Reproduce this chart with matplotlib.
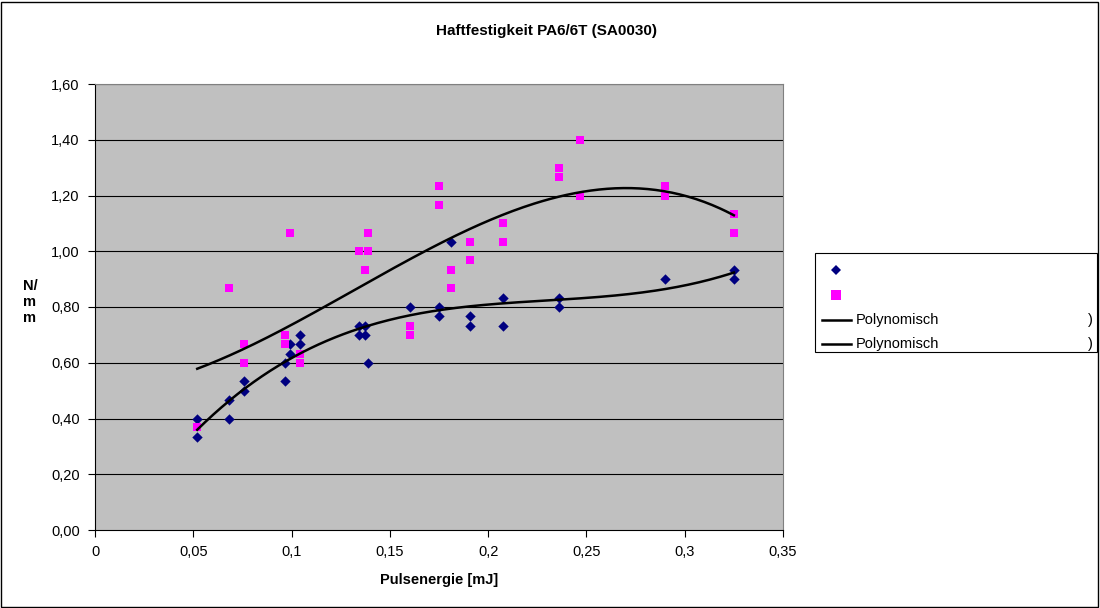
import numpy as np
import matplotlib.pyplot as plt
from matplotlib.lines import Line2D
from matplotlib.patches import Rectangle
from matplotlib.ticker import FuncFormatter

plt.rcParams['font.family'] = ['Liberation Sans', 'DejaVu Sans']

# Reihe 1 (blaue Rauten)
x_blue = [0.052, 0.052, 0.068, 0.068, 0.0758, 0.0758, 0.0967, 0.0967, 0.0994, 0.0994,
          0.1045, 0.1045, 0.1345, 0.1345, 0.1375, 0.1375, 0.139, 0.16, 0.175, 0.175,
          0.181, 0.191, 0.191, 0.2075, 0.2075, 0.236, 0.236, 0.29, 0.325, 0.325]
y_blue = [0.40, 0.333, 0.467, 0.40, 0.533, 0.50, 0.533, 0.60, 0.667, 0.633,
          0.70, 0.667, 0.733, 0.70, 0.733, 0.70, 0.60, 0.80, 0.80, 0.767,
          1.033, 0.767, 0.733, 0.833, 0.733, 0.833, 0.80, 0.90, 0.933, 0.90]

# Reihe 2 (pinke Quadrate)
x_pink = [0.052, 0.068, 0.0758, 0.0758, 0.0967, 0.0967, 0.0994, 0.1045, 0.1045,
          0.1345, 0.139, 0.139, 0.1375, 0.16, 0.16, 0.175, 0.175, 0.181, 0.181,
          0.191, 0.191, 0.2075, 0.2075, 0.236, 0.236, 0.2467, 0.2467, 0.29, 0.29,
          0.325, 0.325]
y_pink = [0.37, 0.867, 0.667, 0.60, 0.70, 0.667, 1.067, 0.633, 0.60,
          1.00, 1.00, 1.067, 0.933, 0.733, 0.70, 1.233, 1.167, 0.933, 0.867,
          1.033, 0.967, 1.10, 1.033, 1.30, 1.267, 1.40, 1.20, 1.233, 1.20,
          1.133, 1.067]

x_ticks = [0, 0.05, 0.1, 0.15, 0.2, 0.25, 0.3, 0.35]
y_ticks = [0, 0.2, 0.4, 0.6, 0.8, 1.0, 1.2, 1.4, 1.6]

fig = plt.figure(figsize=(11, 6.08), dpi=100)
ax = fig.add_axes([95 / 1100, 1 - 530 / 608, 688 / 1100, 446 / 608])
ax.set_facecolor('#C0C0C0')

# Gitterlinien
for yv in y_ticks[1:]:
    ax.axhline(yv, color='black', lw=0.8, zorder=1)

ax.scatter(x_blue, y_blue, marker='D', s=28, color='#000080', zorder=2, linewidths=0)
ax.scatter(x_pink, y_pink, marker='s', s=34, color='#FF00FF', zorder=3, linewidths=0)

# Polynomische Trendlinien (3. Ordnung)
for xs, ys in [(x_blue, y_blue), (x_pink, y_pink)]:
    c = np.polyfit(xs, ys, 3)
    xx = np.linspace(min(xs), max(xs), 200)
    ax.plot(xx, np.polyval(c, xx), color='black', lw=1.8, zorder=4)

ax.set_xlim(0, 0.35)
ax.set_ylim(0, 1.6)
ax.set_xticks(x_ticks)
ax.set_yticks(y_ticks)
ax.xaxis.set_major_formatter(FuncFormatter(lambda v, p: ('%g' % round(v, 2)).replace('.', ',')))
ax.yaxis.set_major_formatter(FuncFormatter(lambda v, p: ('%.2f' % v).replace('.', ',')))
ax.tick_params(labelsize=10.5, length=5, width=0.8, color='black', pad=6)
for s in ['top', 'right']:
    ax.spines[s].set_color('#808080')
for s in ['left', 'bottom']:
    ax.spines[s].set_color('black')

ax.set_xlabel('Pulsenergie [mJ]', fontsize=10.5, fontweight='bold', labelpad=10)
fig.text(30 / 1100, 1 - 302 / 608, 'N/\nm\nm', fontsize=10.5, fontweight='bold',
         ha='center', va='center', linespacing=1.2)
fig.text(547 / 1100, 1 - 31 / 608, 'Haftfestigkeit PA6/6T (SA0030)', fontsize=11,
         fontweight='bold', ha='center', va='center')

# Legende (manuell)
fig.add_artist(Rectangle((815 / 1100, 1 - 352 / 608), 282 / 1100, 99 / 608,
                         transform=fig.transFigure, facecolor='white', edgecolor='black', lw=0.8))
fig.add_artist(Line2D([836 / 1100], [1 - 270 / 608], marker='D', markersize=5,
                      color='#000080', transform=fig.transFigure, markeredgewidth=0))
fig.add_artist(Line2D([836 / 1100], [1 - 295 / 608], marker='s', markersize=6.5,
                      color='#FF00FF', transform=fig.transFigure, markeredgewidth=0))
for py in [320, 344]:
    fig.add_artist(Line2D([822 / 1100, 851 / 1100], [1 - py / 608] * 2, color='black',
                          lw=1.8, transform=fig.transFigure))
    fig.text(856 / 1100, 1 - py / 608, 'Polynomisch', fontsize=10.5, va='center')
    fig.text(1093 / 1100, 1 - py / 608, ')', fontsize=10.5, va='center', ha='right')

# Rahmen um das Diagramm
fig.add_artist(Rectangle((1 / 1100, 1 / 608), 1097 / 1100, 605 / 608, transform=fig.transFigure,
                         facecolor='none', edgecolor='black', lw=1))

fig.savefig('out.png', dpi=100)
